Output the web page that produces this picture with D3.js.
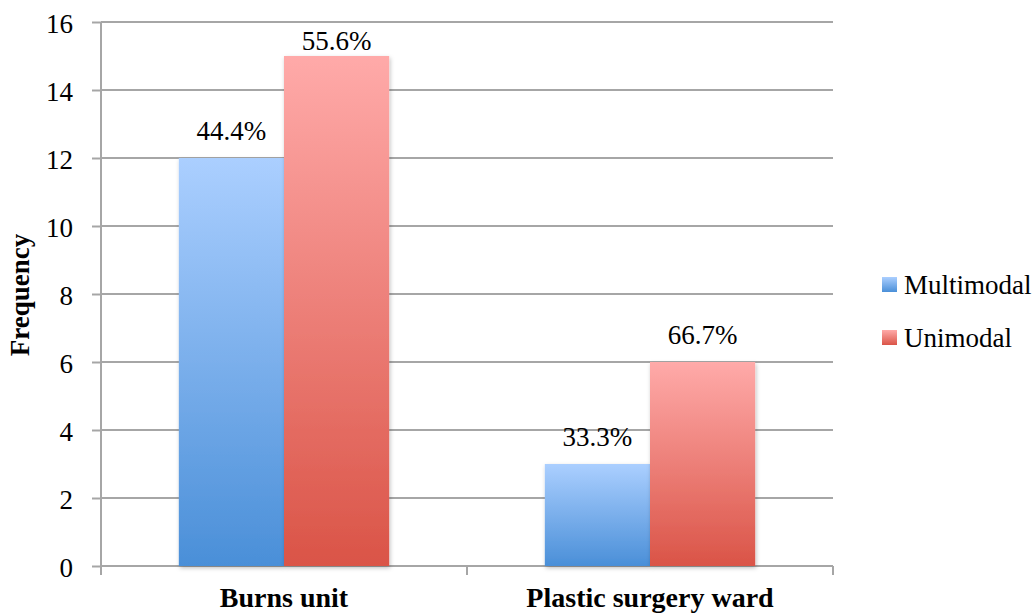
<!DOCTYPE html>
<html>
<head>
<meta charset="utf-8">
<script src="https://cdn.jsdelivr.net/npm/d3@7"></script>
<style>
  body { margin: 0; background: #fff; }
  text { font-family: "Liberation Serif", serif; fill: #000; }
</style>
</head>
<body>
<div class="chart"></div>
<script>
// Chart data
var categories = ["Burns unit", "Plastic surgery ward"];
var seriesNames = ["Multimodal", "Unimodal"];
var multimodal = [12, 3];
var unimodal = [15, 6];
var multimodalLabels = ["44.4%", "33.3%"];
var unimodalLabels = ["55.6%", "66.7%"];
var yTicks = [0, 2, 4, 6, 8, 10, 12, 14, 16];

var svgWidth = 1034;
var svgHeight = 615;

var margin = { top: 22, right: 201, bottom: 49, left: 101 };
var width = svgWidth - margin.left - margin.right;
var height = svgHeight - margin.top - margin.bottom;

var svg = d3.select(".chart")
  .append("svg")
  .attr("width", svgWidth)
  .attr("height", svgHeight);

// gradients
var defs = svg.append("defs");
function addGradient(id, top, bottom) {
  var g = defs.append("linearGradient")
    .attr("id", id)
    .attr("x1", 0).attr("y1", 0)
    .attr("x2", 0).attr("y2", 1);
  g.append("stop").attr("offset", "0%").attr("stop-color", top);
  g.append("stop").attr("offset", "100%").attr("stop-color", bottom);
}
addGradient("gradBlue", "#abcfff", "#4a8fd8");
addGradient("gradRed", "#ffaaa9", "#da5447");

var filter = defs.append("filter").attr("id", "shadow")
  .attr("x", "-10%").attr("y", "-10%").attr("width", "130%").attr("height", "130%");
filter.append("feDropShadow")
  .attr("dx", 1).attr("dy", 2).attr("stdDeviation", 2)
  .attr("flood-color", "#000").attr("flood-opacity", 0.25);

var chartGroup = svg.append("g")
  .attr("transform", `translate(${margin.left}, ${margin.top})`);

// scales
var x0 = d3.scaleBand()
  .domain(categories)
  .range([0, width]);

var x1 = d3.scaleBand()
  .domain(seriesNames)
  .range([0, x0.bandwidth()])
  .paddingOuter(0.74);

var y = d3.scaleLinear()
  .domain([0, 16])
  .range([height, 0]);

// gridlines
chartGroup.append("g")
  .selectAll("line")
  .data(yTicks.slice(1))
  .enter()
  .append("line")
  .attr("x1", 0)
  .attr("x2", width)
  .attr("y1", d => y(d))
  .attr("y2", d => y(d))
  .attr("stroke", "#a6a6a6")
  .attr("stroke-width", 2);

// axes
var leftAxis = d3.axisLeft(y)
  .tickValues(yTicks)
  .tickSize(9)
  .tickPadding(19)
  .tickFormat(d3.format("d"));

var yAxisG = chartGroup.append("g").call(leftAxis);
yAxisG.select(".domain").attr("stroke", "#a6a6a6").attr("stroke-width", 2)
  .attr("d", `M-0,${height + 8}V0`);
yAxisG.selectAll(".tick line").attr("stroke", "#a6a6a6").attr("stroke-width", 2);
yAxisG.selectAll(".tick text")
  .style("font-family", "Liberation Serif")
  .style("font-size", "27px")
  .attr("dy", "0.4em")
  .attr("fill", "#000");

var bottomAxis = d3.axisBottom(x0)
  .tickSize(0)
  .tickPadding(21);
var xAxisG = chartGroup.append("g")
  .attr("transform", `translate(0, ${height})`)
  .call(bottomAxis);
xAxisG.select(".domain").attr("stroke", "#a6a6a6").attr("stroke-width", 2)
  .attr("d", `M0,0H${width}`);
xAxisG.selectAll(".tick text")
  .style("font-family", "Liberation Serif")
  .style("font-size", "28px")
  .style("font-weight", "bold")
  .attr("fill", "#000");

// category boundary ticks
chartGroup.append("g")
  .selectAll("line")
  .data([0, 1, 2])
  .enter()
  .append("line")
  .attr("x1", d => d * x0.step())
  .attr("x2", d => d * x0.step())
  .attr("y1", height)
  .attr("y2", height + 9)
  .attr("stroke", "#a6a6a6")
  .attr("stroke-width", 2);

// bars
var series = [
  { name: "Multimodal", values: multimodal, labels: multimodalLabels, fill: "url(#gradBlue)" },
  { name: "Unimodal", values: unimodal, labels: unimodalLabels, fill: "url(#gradRed)" }
];

series.forEach(function (s) {
  var g = chartGroup.append("g");
  g.selectAll("rect")
    .data(s.values)
    .enter()
    .append("rect")
    .attr("x", (d, i) => x0(categories[i]) + x1(s.name))
    .attr("y", d => y(d))
    .attr("width", x1.bandwidth())
    .attr("height", d => height - y(d))
    .attr("fill", s.fill)
    .attr("filter", "url(#shadow)");

  // labels sit above the bar, but stay inside the plot area
  g.selectAll("text")
    .data(s.values)
    .enter()
    .append("text")
    .attr("x", (d, i) => x0(categories[i]) + x1(s.name) + x1.bandwidth() / 2)
    .attr("y", d => Math.max(y(d) - 18, 28))
    .attr("text-anchor", "middle")
    .style("font-size", "27px")
    .text((d, i) => s.labels[i]);
});

// y axis label
chartGroup.append("text")
  .attr("transform", "rotate(-90)")
  .attr("x", 0 - 273)
  .attr("y", 0 - margin.left + 29)
  .attr("text-anchor", "middle")
  .style("font-size", "27px")
  .style("font-weight", "bold")
  .text("Frequency");

// legend
var legend = svg.append("g")
  .attr("transform", "translate(882, 277)");

var legendItem = legend.selectAll("g")
  .data(series)
  .enter()
  .append("g")
  .attr("transform", (d, i) => `translate(0, ${i * 53})`);

legendItem.append("rect")
  .attr("width", 15)
  .attr("height", 15)
  .attr("fill", d => d.fill);

legendItem.append("text")
  .attr("x", 22)
  .attr("y", 17)
  .style("font-size", "27px")
  .text(d => d.name);
</script>
</body>
</html>
